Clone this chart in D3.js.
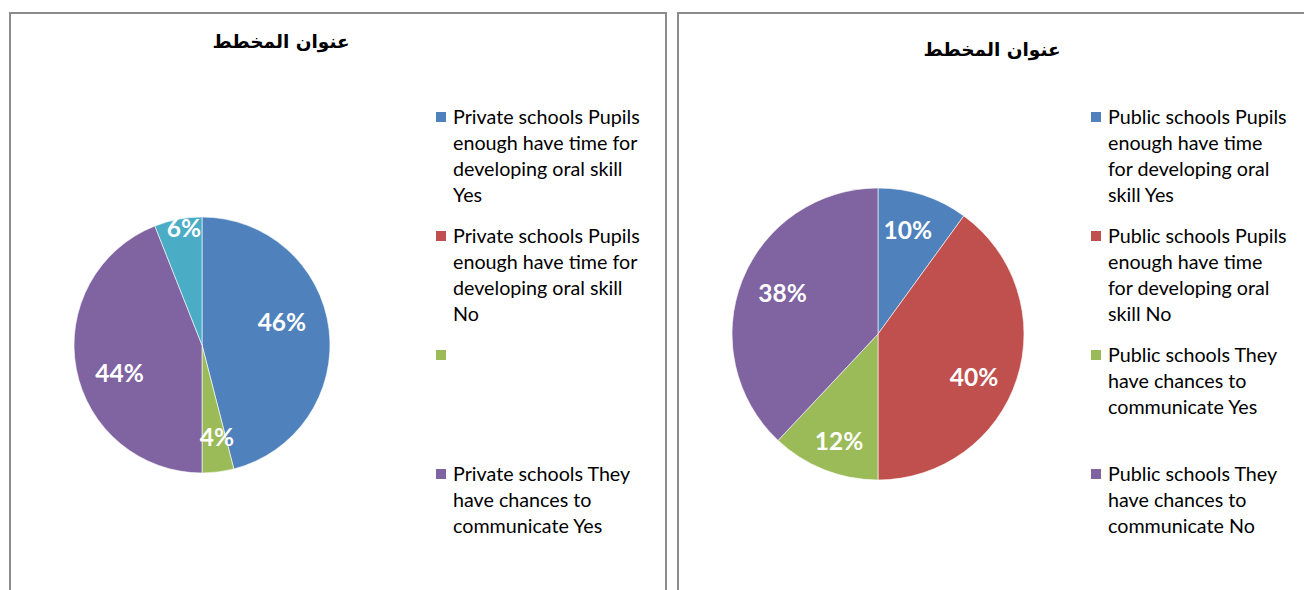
<!DOCTYPE html>
<html>
<head>
<meta charset="utf-8">
<script src="https://cdn.jsdelivr.net/npm/d3@7"></script>
<style>
  html, body { margin: 0; padding: 0; background: #ffffff; }
  svg { display: block; }
</style>
</head>
<body>
<svg id="chart" width="1304" height="590"></svg>
<script>
// ---- data ----
const chartTitle = "عنوان المخطط";

const privateCategories = [
  "Private schools Pupils enough have time for developing oral skill Yes",
  "Private schools Pupils enough have time for developing oral skill No",
  "",
  "Private schools They have chances to communicate Yes",
  ""
];
const privateValues = [46, 0, 4, 44, 6];

const publicCategories = [
  "Public schools Pupils enough have time for developing oral skill Yes",
  "Public schools Pupils enough have time for developing oral skill No",
  "Public schools They have chances to communicate Yes",
  "Public schools They have chances to communicate No"
];
const publicValues = [10, 40, 12, 38];

const sliceColors = ["#4F81BD", "#C0504D", "#9BBB59", "#8064A2", "#4BACC6"];

// ---- layout ----
const W = 1304, H = 590;
const panels = [
  {
    categories: privateCategories, values: privateValues,
    frame: { x: 10, y: 13, w: 656, h: 620 },
    title: { x: 281, y: 42 },
    pie: { cx: 202, cy: 345, r: 128 },
    // per-slice label radius (fraction of r) and angular nudge (degrees)
    labelFit: [[0.65, -9], [0.7, 0], [0.73, -2], [0.68, -8], [0.92, 2]],
    legend: { sx: 436, tx: 453, y0: 117, maxW: 192 }
  },
  {
    categories: publicCategories, values: publicValues,
    frame: { x: 678, y: 13, w: 640, h: 620 },
    title: { x: 992, y: 50 },
    pie: { cx: 878, cy: 334, r: 146 },
    labelFit: [[0.74, -2], [0.72, 6], [0.78, -1.6], [0.71, 1.4]],
    legend: { sx: 1091, tx: 1108, y0: 117, maxW: 180 }
  }
];

const lineH = 26;
const itemPitch = 119;
const bodyFont = "Lato, 'Open Sans', sans-serif";

const svg = d3.select("#chart");

panels.forEach(p => {
  const g = svg.append("g");

  // chart frame
  g.append("rect")
    .attr("x", p.frame.x).attr("y", p.frame.y)
    .attr("width", p.frame.w).attr("height", p.frame.h)
    .attr("fill", "#ffffff")
    .attr("stroke", "#8c8c8c")
    .attr("stroke-width", 2);

  // title
  g.append("text")
    .attr("x", p.title.x).attr("y", p.title.y)
    .attr("text-anchor", "middle")
    .attr("dy", "0.35em")
    .attr("direction", "rtl")
    .style("font-family", "'DejaVu Sans', sans-serif")
    .style("font-weight", "bold")
    .style("font-size", "18.5px")
    .attr("fill", "#000")
    .text(chartTitle);

  // pie
  const pie = d3.pie().sort(null).value(d => d)
    .startAngle(0).endAngle(2 * Math.PI);
  const arcs = pie(p.values);
  const arc = d3.arc().innerRadius(0).outerRadius(p.pie.r);
  const color = d3.scaleOrdinal().domain(d3.range(sliceColors.length)).range(sliceColors);

  const pg = g.append("g").attr("transform", `translate(${p.pie.cx},${p.pie.cy})`);
  pg.selectAll("path.slice")
    .data(arcs.filter(a => a.value > 0))
    .join("path")
    .attr("class", "slice")
    .attr("d", arc)
    .attr("fill", d => color(d.index))
    .attr("stroke", "#ffffff")
    .attr("stroke-width", 0.6);

  // data labels
  pg.selectAll("text.val")
    .data(arcs.filter(a => a.value > 0))
    .join("text")
    .attr("class", "val")
    .attr("transform", d => {
      const [f, nudge] = p.labelFit[d.index];
      const mid = (d.startAngle + d.endAngle) / 2 + nudge * Math.PI / 180;
      const rr = p.pie.r * f;
      return `translate(${rr * Math.sin(mid)},${-rr * Math.cos(mid)})`;
    })
    .attr("text-anchor", "middle")
    .attr("dy", "0.36em")
    .style("font-family", bodyFont)
    .style("font-weight", "bold")
    .style("font-size", "24.5px")
    .attr("fill", "#ffffff")
    .text(d => d3.format(".0%")(d.value / d3.sum(p.values)));

  // legend: entries that would fall below the visible area are dropped
  const lg = g.append("g");
  p.categories.forEach((label, i) => {
    const yTop = p.legend.y0 + i * itemPitch;
    if (yTop + lineH / 2 > H) return;
    lg.append("rect")
      .attr("x", p.legend.sx).attr("y", yTop - 5)
      .attr("width", 10).attr("height", 10)
      .attr("fill", sliceColors[i]);
    if (!label) return;
    const t = lg.append("text")
      .style("font-family", bodyFont)
      .style("font-size", "19.7px")
      .attr("fill", "#000");
    // word wrap to the legend width
    const words = label.split(" ");
    let line = [];
    let row = 0;
    let ts = t.append("tspan").attr("x", p.legend.tx).attr("y", yTop).attr("dy", "0.35em");
    words.forEach(w => {
      line.push(w);
      ts.text(line.join(" "));
      if (ts.node().getComputedTextLength() > p.legend.maxW && line.length > 1) {
        line.pop();
        ts.text(line.join(" "));
        line = [w];
        row += 1;
        ts = t.append("tspan").attr("x", p.legend.tx)
          .attr("y", yTop + row * lineH).attr("dy", "0.35em").text(w);
      }
    });
  });
});
</script>
</body>
</html>
